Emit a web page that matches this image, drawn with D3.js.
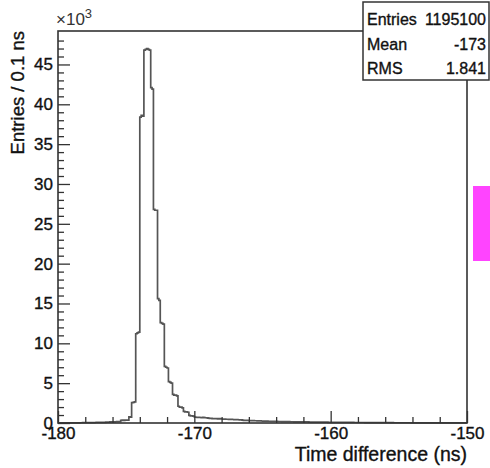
<!DOCTYPE html>
<html>
<head>
<meta charset="utf-8">
<script src="https://cdn.jsdelivr.net/npm/d3@7"></script>
<style>
  body { margin: 0; background: #fff; }
  text { font-family: "Liberation Sans", Helvetica, Arial, sans-serif; fill: #111; stroke: #111; stroke-width: 0.35px; }
</style>
</head>
<body>
<svg id="chart" width="490" height="468"></svg>
<script>
// Histogram: time difference, 0.1 ns bins from -180 to -150 ns
const xMin = -180;
const binWidth = 0.1;
const counts = [
    0, 0, 10, 0, 10, 10, 0, 10, 10, 20,
    10, 20, 20, 20, 30, 20, 30, 30, 40, 30,
    40, 40, 50, 40, 50, 60, 50, 60, 70, 60,
    70, 80, 80, 90, 90, 100, 110, 110, 130, 140,
    150, 150, 160, 170, 160, 180, 330, 350, 340, 360,
    370, 360, 760, 740, 2550, 2600, 2650, 11200, 11300, 11400,
    38400, 38600, 38500, 46800, 46900, 47000, 46900, 46800, 42100, 41900,
    26800, 26700, 26700, 15600, 15400, 12600, 12500, 12400, 7100, 7000,
    6900, 5200, 5100, 5000, 3600, 3500, 3500, 3400, 2100, 2000,
    2000, 1900, 1450, 1400, 1400, 1350, 950, 900, 900, 850,
    750, 720, 700, 700, 690, 680, 700, 670, 660, 650,
    600, 580, 570, 560, 550, 550, 540, 530, 540, 520,
    500, 490, 480, 470, 470, 460, 450, 450, 440, 430,
    430, 420, 410, 400, 390, 360, 340, 330, 320, 320,
    310, 300, 300, 290, 280, 280, 270, 260, 260, 250,
    240, 240, 230, 230, 220, 220, 210, 210, 200, 200,
    200, 190, 190, 190, 180, 180, 180, 170, 170, 170,
    160, 160, 160, 150, 150, 150, 140, 140, 140, 140,
    130, 130, 130, 130, 120, 120, 120, 120, 110, 110,
    110, 110, 110, 100, 100, 100, 100, 100, 90, 90,
    90, 90, 90, 90, 80, 80, 80, 80, 80, 80,
    70, 70, 70, 70, 70, 70, 70, 60, 60, 60,
    60, 60, 60, 60, 60, 50, 50, 50, 50, 50,
    50, 50, 50, 50, 50, 40, 40, 40, 40, 40,
    40, 40, 40, 40, 40, 40, 30, 30, 30, 30,
    30, 30, 30, 30, 30, 30, 30, 30, 30, 20,
    20, 20, 20, 20, 20, 30, 20, 20, 20, 20,
    20, 20, 20, 20, 10, 20, 20, 10, 20, 10,
    10, 20, 10, 10, 10, 10, 10, 10, 10, 10,
    10, 10, 0, 10, 10, 0, 10, 10, 0, 10
];

// Axis ticks
const xMajorTicks = [-180, -170, -160, -150];
const xMinorTicks = [-178, -176, -174, -172, -168, -166, -164, -162, -158, -156, -154, -152];
const yMajorTicks = [0, 5000, 10000, 15000, 20000, 25000, 30000, 35000, 40000, 45000];

// Stats box
const statNames = ["Entries", "Mean", "RMS"];
const statValues = ["1195100", "-173", "1.841"];

const svg = d3.select("#chart");

const plotLeft = 58, plotRight = 467, plotTop = 31, plotBottom = 423;

const x = d3.scaleLinear().domain([-180, -150]).range([plotLeft, plotRight]);
const y = d3.scaleLinear().domain([0, 49200]).range([plotBottom, plotTop]);

// minor y ticks every 1000, excluding majors
let yMinorTicks = [];
for (let v = 1000; v < 49000; v += 1000) {
    if (v % 5000 !== 0) yMinorTicks.push(v);
}

// histogram outline as steps
let pts = [];
counts.forEach((c, i) => {
    let lo = xMin + i * binWidth;
    pts.push([lo, c]);
    pts.push([lo + binWidth, c]);
});

let line = d3.line()
    .x(d => x(d[0]))
    .y(d => y(d[1]));

svg.append("path")
    .datum(pts)
    .attr("d", line)
    .style("fill", "none")
    .style("stroke", "#555")
    .style("stroke-width", 1.7);

// frame
svg.append("rect")
    .attr("x", plotLeft).attr("y", plotTop)
    .attr("width", plotRight - plotLeft).attr("height", plotBottom - plotTop)
    .style("fill", "none")
    .style("stroke", "#333")
    .style("stroke-width", 1.6);

// y axis (ticks pointing into frame)
svg.append("g")
    .attr("transform", `translate(${plotLeft},0)`)
    .call(d3.axisLeft(y).tickValues(yMajorTicks).tickSize(-12).tickPadding(5)
        .tickFormat(d => d / 1000));
svg.append("g")
    .attr("transform", `translate(${plotLeft},0)`)
    .call(d3.axisLeft(y).tickValues(yMinorTicks).tickSize(-6).tickFormat(""));

// x axis
svg.append("g")
    .attr("transform", `translate(0,${plotBottom})`)
    .call(d3.axisBottom(x).tickValues(xMajorTicks).tickSize(-12).tickPadding(4)
        .tickFormat(d => String(d)));
svg.append("g")
    .attr("transform", `translate(0,${plotBottom})`)
    .call(d3.axisBottom(x).tickValues(xMinorTicks).tickSize(-6).tickFormat(""));

svg.selectAll(".domain").remove();
svg.selectAll(".tick line").style("stroke", "#333").style("stroke-width", 1.3);
svg.selectAll(".tick text")
    .style("font-family", "'Liberation Sans', Helvetica, Arial, sans-serif")
    .style("font-size", "17px")
    .style("fill", "#111")
    .style("stroke", "#111")
    .style("stroke-width", "0.35px");

// axis titles
svg.append("text")
    .attr("x", plotRight).attr("y", 461)
    .attr("text-anchor", "end")
    .style("font-size", "19.5px")
    .text("Time difference (ns)");

svg.append("text")
    .attr("transform", `translate(24,${plotTop}) rotate(-90)`)
    .attr("text-anchor", "end")
    .style("font-size", "18.5px")
    .text("Entries / 0.1 ns");

// exponent label
let expo = svg.append("text")
    .attr("x", plotLeft - 2).attr("y", 25)
    .style("font-size", "17px")
    .style("fill", "#333")
    .style("stroke-width", "0px");
expo.append("tspan").text("\u00d710");
expo.append("tspan").attr("dy", -7).style("font-size", "13px").text("3");

// stats box
svg.append("rect")
    .attr("x", 363).attr("y", 2)
    .attr("width", 126).attr("height", 78)
    .style("fill", "#fff")
    .style("stroke", "#333")
    .style("stroke-width", 1.5);

let rowY = [25, 50, 74];
statNames.forEach((s, i) => {
    svg.append("text")
        .attr("x", 367).attr("y", rowY[i])
        .style("font-size", "16px")
        .text(s);
    svg.append("text")
        .attr("x", 486).attr("y", rowY[i])
        .attr("text-anchor", "end")
        .style("font-size", "16px")
        .text(statValues[i]);
});

// magenta marker at right edge
svg.append("rect")
    .attr("x", 473).attr("y", 186)
    .attr("width", 17).attr("height", 75)
    .style("fill", "#ff44ff");
</script>
</body>
</html>
